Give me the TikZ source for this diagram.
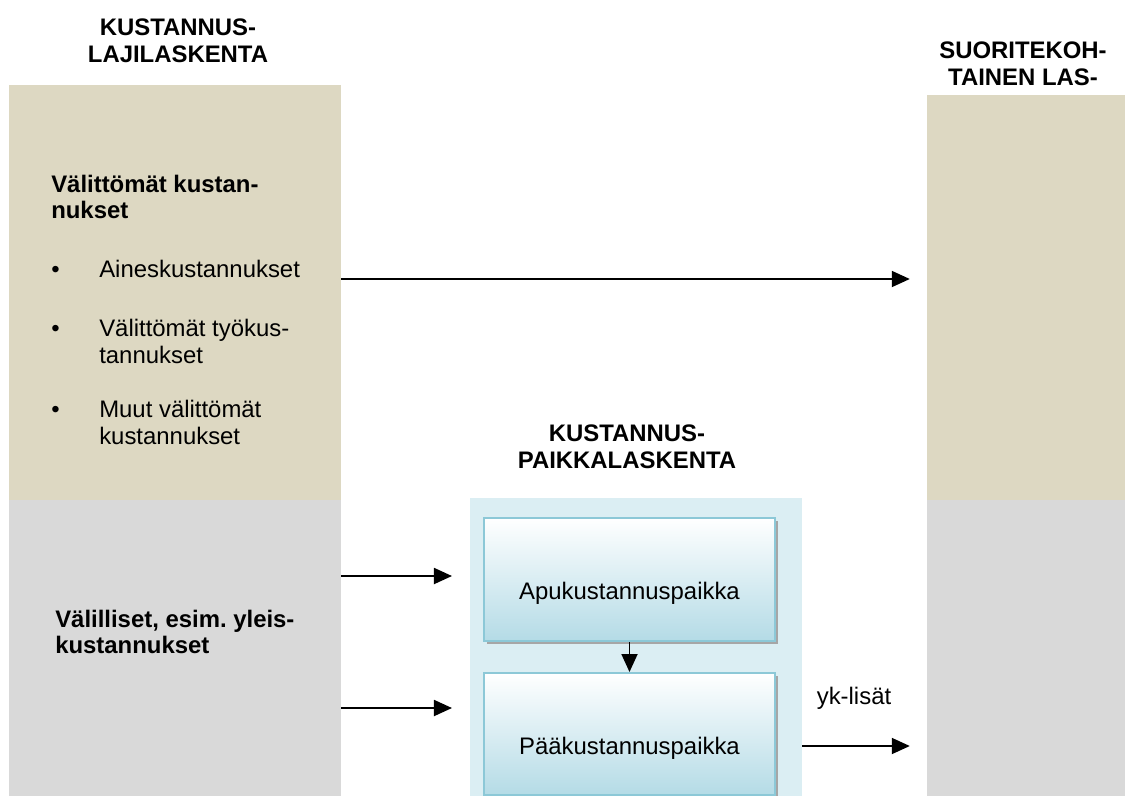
\documentclass[tikz,border=0pt]{standalone}
\usepackage{fontspec}
\setmainfont{Liberation Sans}
\usepackage{xcolor}
\definecolor{Sand}{RGB}{221, 216, 194}
\definecolor{LightGrey}{RGB}{217, 217, 217}
\definecolor{PaleBlue}{RGB}{219, 238, 243}
\definecolor{BoxEdge}{RGB}{140, 200, 215}
\definecolor{BoxBlue}{RGB}{180, 219, 230}
\usetikzlibrary{arrows.meta, positioning, shadows}

\begin{document}
\begin{tikzpicture}[
    x=0.025cm, y=-0.025cm,
    font=\fontsize{17}{19}\selectfont,
    panel/.style={rectangle, anchor=north west, inner sep=0pt, outer sep=0pt},
    header/.style={align=center, font=\fontsize{17}{19}\selectfont\bfseries},
    heading/.style={anchor=west, align=left, inner sep=0pt, font=\fontsize{17}{19}\selectfont\bfseries},
    item/.style={anchor=west, inner sep=0pt},
    box/.style={rectangle, minimum width=7.275cm, draw=BoxEdge, line width=1.4pt,
        top color=white, bottom color=BoxBlue, text height=1.1cm, text depth=0.1cm,
        drop shadow={shadow xshift=2pt, shadow yshift=-2pt, fill=gray!70, opacity=1}},
    arrow/.style={-{Triangle[length=0.45cm, width=0.4cm]}, line width=1.3pt}
]
\useasboundingbox (0,0) rectangle (1125,796);

% Columns
\node[panel, fill=Sand, minimum width=8.3cm, minimum height=10.375cm] (lajiTan) at (9,85) {};
\node[panel, fill=LightGrey, minimum width=8.3cm, minimum height=7.4cm] (lajiGrey) at (9,500) {};
\node[panel, fill=Sand, minimum width=4.95cm, minimum height=10.125cm] (suorTan) at (927,95) {};
\node[panel, fill=LightGrey, minimum width=4.95cm, minimum height=7.4cm] (suorGrey) at (927,500) {};
\node[panel, fill=PaleBlue, minimum width=8.3cm, minimum height=7.45cm] (paikkaBg) at (470,498) {};

% Headers
\node[header] (lajiHead) at (178,41) {KUSTANNUS-\\LAJILASKENTA};
\node[header] (suorHead) at (1023,64) {SUORITEKOH-\\TAINEN LAS-};
\node[header] (paikkaHead) at (627,447) {KUSTANNUS-\\PAIKKALASKENTA};

% Direct costs
\node[heading] (valitt) at (51,197) {Välittömät kustan-\\nukset};
\node[item] (aines) at (51,272) {\begin{tabular}{@{}p{1.2cm}@{}l@{}}• & Aineskustannukset\end{tabular}};
\node[item] (tyo) at (51,345) {\begin{tabular}{@{}p{1.2cm}@{}l@{}}• & Välittömät työkus-\\ & tannukset\end{tabular}};
\node[item] (muut) at (51,426) {\begin{tabular}{@{}p{1.2cm}@{}l@{}}• & Muut välittömät\\ & kustannukset\end{tabular}};

% Indirect costs
\node[heading] (valill) at (55,632) {Välilliset, esim.\ yleis-\\kustannukset};

% Cost centres
\node[box, minimum height=3.075cm] (apu) at (629.5,579.5) {Apukustannuspaikka};
\node[box, minimum height=3.05cm] (paa) at (629.5,734) {Pääkustannuspaikka};
\node (yk) at (854,698) {yk-lisät};

% Arrows
\coordinate (r1) at (0,279);
\coordinate (r2) at (0,576);
\coordinate (r3) at (0,708);
\coordinate (r4) at (0,746);
\draw[arrow, shorten >=0.43cm] (lajiTan.east |- r1) -- (suorTan.west |- r1);
\draw[arrow, shorten >=0.45cm] (lajiGrey.east |- r2) -- (paikkaBg.west |- r2);
\draw[arrow, shorten >=0.45cm] (lajiGrey.east |- r3) -- (paikkaBg.west |- r3);
\draw[arrow] (apu.south) -- (paa.north);
\draw[arrow, shorten >=0.43cm] (paikkaBg.east |- r4) -- (suorGrey.west |- r4);

\end{tikzpicture}
\end{document}
